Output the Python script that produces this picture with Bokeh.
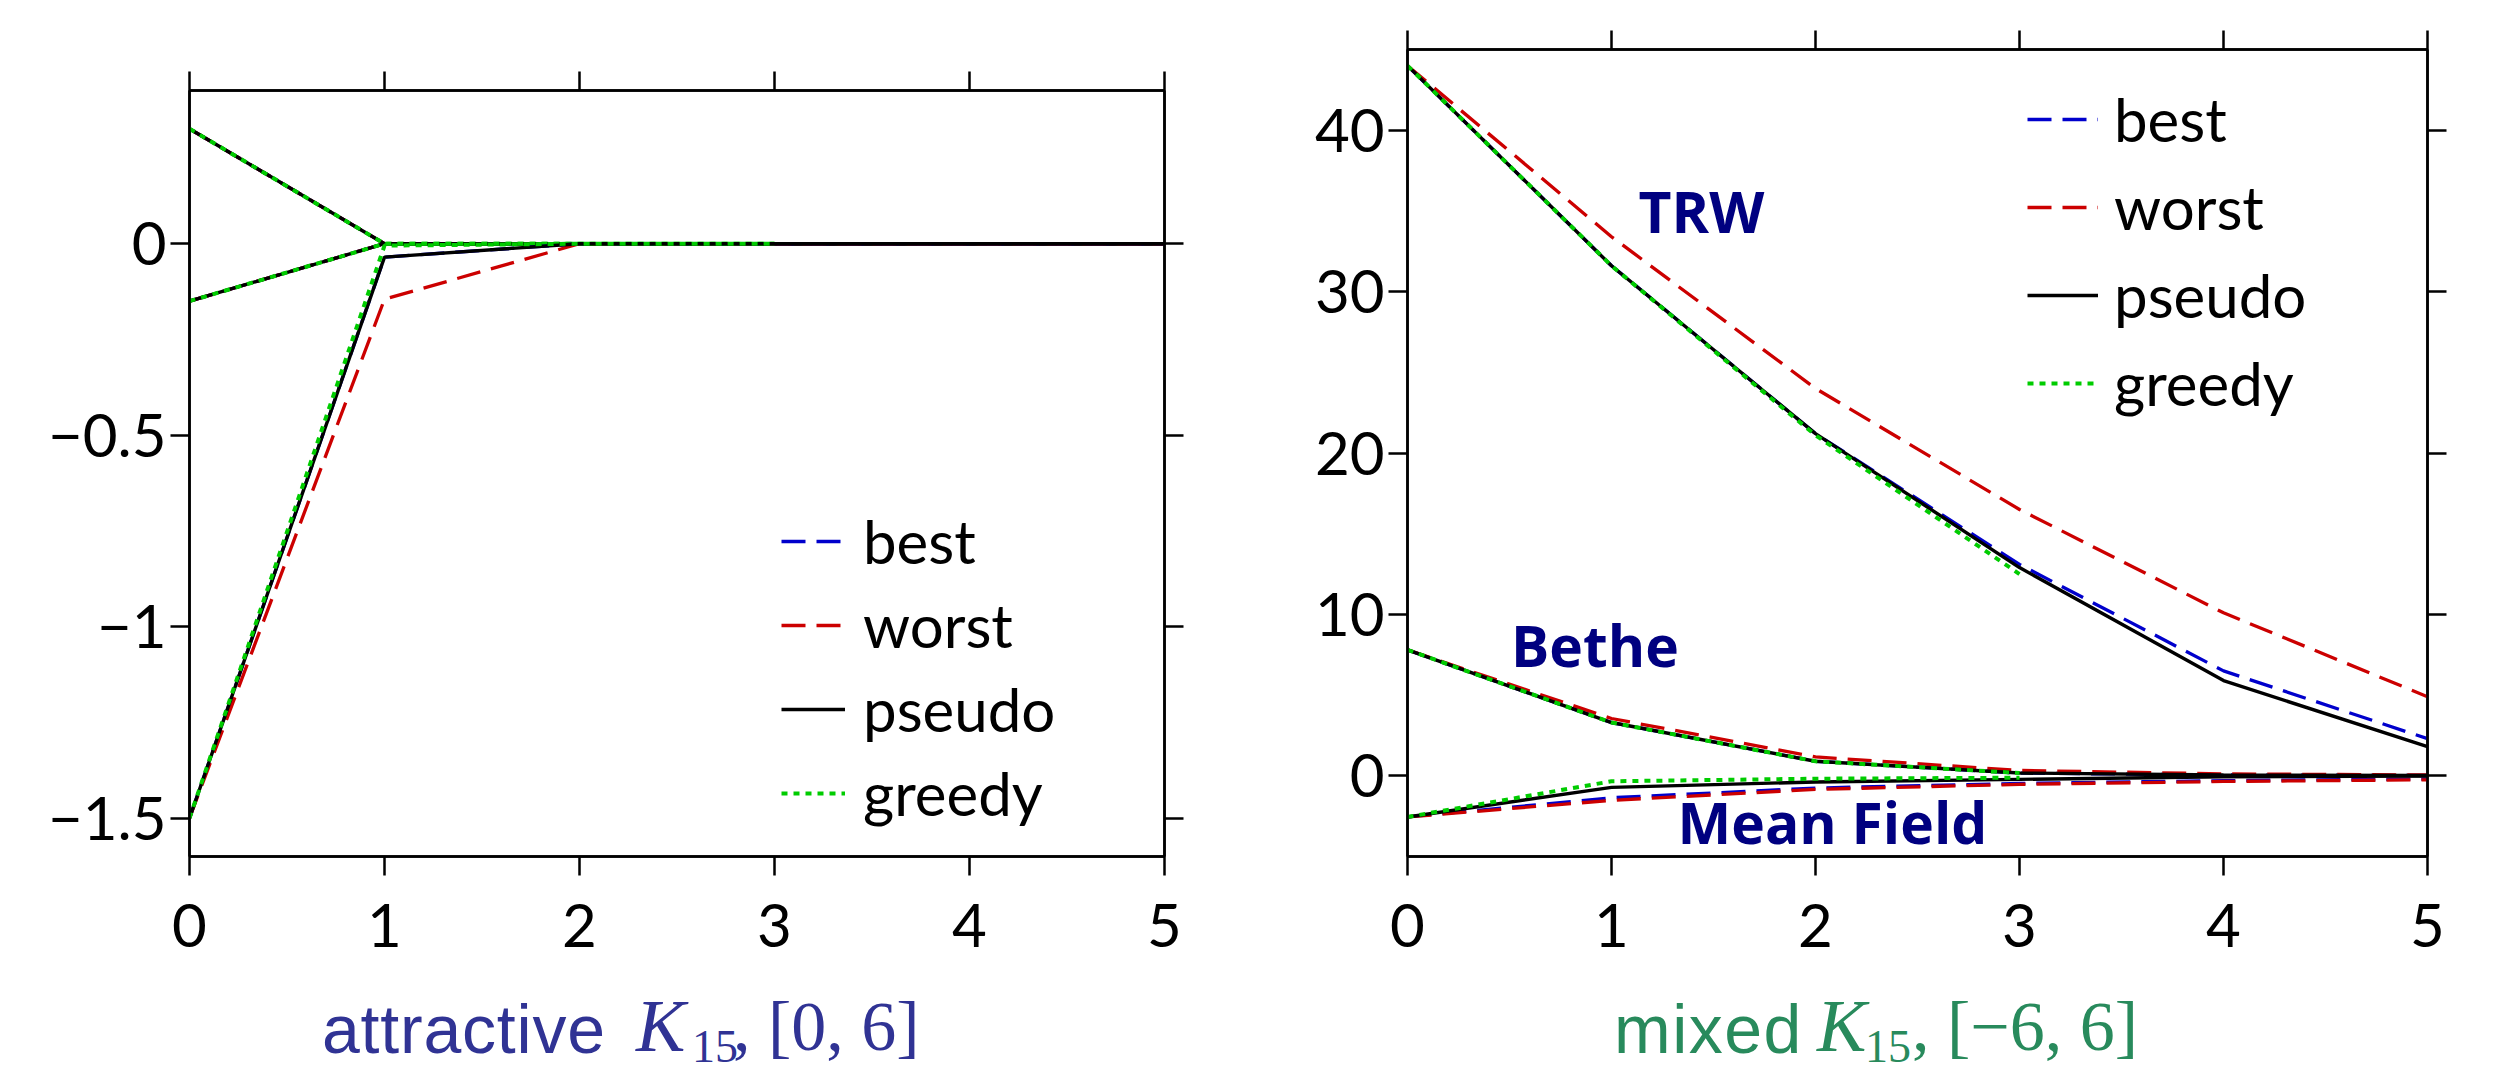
from bokeh.plotting import figure
from bokeh.models import (Range1d, LinearAxis, FixedTicker, CustomJSTickFormatter,
                          Legend, LegendItem, ColumnDataSource, Div)
from bokeh.layouts import row, column
from bokeh.core.properties import value
from bokeh.embed import file_html
from bokeh.resources import INLINE

# ---------------- data ----------------
steps = [0, 1, 2, 3, 4, 5]
greedy_steps = [0, 1, 2, 3]
methods = ["best", "worst", "pseudo", "greedy"]

# attractive K15, [0, 6]
att_trw_best = [0.30, 0.0, 0.0, 0.0, 0.0, 0.0]
att_trw_worst = [0.30, 0.0, 0.0, 0.0, 0.0, 0.0]
att_trw_pseudo = [0.30, 0.0, 0.0, 0.0, 0.0, 0.0]
att_trw_greedy = [0.30, 0.0, 0.0, 0.0]

att_bethe_best = [-0.15, 0.0, 0.0, 0.0, 0.0, 0.0]
att_bethe_worst = [-0.15, 0.0, 0.0, 0.0, 0.0, 0.0]
att_bethe_pseudo = [-0.15, 0.0, 0.0, 0.0, 0.0, 0.0]
att_bethe_greedy = [-0.15, 0.0, 0.0, 0.0]

att_mf_best = [-1.50, -0.035, 0.0, 0.0, 0.0, 0.0]
att_mf_worst = [-1.50, -0.145, 0.0, 0.0, 0.0, 0.0]
att_mf_pseudo = [-1.50, -0.035, 0.0, 0.0, 0.0, 0.0]
att_mf_greedy = [-1.50, -0.005, 0.0, 0.0]

# mixed K15, [-6, 6]
mix_trw_best = [44.0, 31.6, 21.2, 13.1, 6.5, 2.3]
mix_trw_worst = [44.0, 33.4, 24.0, 16.5, 10.1, 4.9]
mix_trw_pseudo = [44.0, 31.6, 21.2, 12.9, 5.9, 1.8]
mix_trw_greedy = [44.0, 31.6, 21.1, 12.5]

mix_bethe_best = [7.8, 3.3, 0.9, 0.17, 0.05, 0.02]
mix_bethe_worst = [7.8, 3.55, 1.17, 0.33, 0.12, 0.05]
mix_bethe_pseudo = [7.8, 3.3, 0.9, 0.17, 0.05, 0.02]
mix_bethe_greedy = [7.8, 3.3, 0.9, 0.17]

mix_mf_best = [-2.55, -1.36, -0.76, -0.47, -0.30, -0.20]
mix_mf_worst = [-2.55, -1.52, -0.84, -0.53, -0.35, -0.25]
mix_mf_pseudo = [-2.55, -0.72, -0.38, -0.22, -0.06, -0.02]
mix_mf_greedy = [-2.55, -0.34, -0.18, -0.12]

att_y_ticks = [0, -0.5, -1, -1.5]
mix_y_ticks = [0, 10, 20, 30, 40]
region_names = ["TRW", "Bethe", "Mean Field"]

# ---------------- styles ----------------
STYLE = {
    "best": dict(color="#0000cc", dash="24 11", width=3.3),
    "worst": dict(color="#cc0000", dash="24 11", width=3.3),
    "pseudo": dict(color="#000000", dash="solid", width=3.4),
    "greedy": dict(color="#00cc00", dash="6 6", width=4.0),
}
TICK_FONT = "Lato"
AX_W = 2.5

fmt_code = "return tick < 0 ? '\u2212' + String(Math.abs(tick)) : String(tick);"


def make_panel(y_lo, y_hi, y_ticks, fw, fh, bl, br, bt, bb):
    p = figure(frame_width=fw, frame_height=fh,
               x_range=Range1d(0, 5), y_range=Range1d(y_lo, y_hi),
               output_backend="svg", toolbar_location=None,
               min_border_left=bl, min_border_right=br,
               min_border_top=bt, min_border_bottom=bb)
    if "frame_align" in p.properties():
        p.frame_align = False
    p.xgrid.visible = False
    p.ygrid.visible = False
    p.outline_line_color = "black"
    p.outline_line_width = AX_W
    p.background_fill_color = "white"
    p.border_fill_color = "white"
    top = LinearAxis()
    right = LinearAxis()
    p.add_layout(top, "above")
    p.add_layout(right, "right")
    for ax in p.xaxis:
        ax.ticker = FixedTicker(ticks=steps)
        ax.major_label_standoff = 28
    for ax in p.yaxis:
        ax.ticker = FixedTicker(ticks=y_ticks)
        ax.major_label_standoff = 4
    for ax in p.axis:
        ax.formatter = CustomJSTickFormatter(code=fmt_code)
        ax.axis_line_width = AX_W
        ax.axis_line_color = "black"
        ax.major_tick_line_width = AX_W
        ax.major_tick_line_color = "black"
        ax.major_tick_out = 19
        ax.major_tick_in = 0
        ax.minor_tick_line_color = None
        ax.major_label_text_font = TICK_FONT
        ax.major_label_text_font_size = "60px"
        ax.major_label_text_color = "black"
    for ax in (top, right):
        ax.major_label_text_font_size = "10px"
        ax.major_label_text_color = None
    return p


def draw_group(p, ys):
    rs = {}
    for m in methods:
        st = STYLE[m]
        xs = greedy_steps if m == "greedy" else steps
        rs[m] = p.line(xs, ys[m], line_color=st["color"], line_dash=st["dash"],
                       line_width=st["width"])
    return rs


def add_legend(p, rs, loc, spacing, glyph_w, standoff):
    items = [LegendItem(label=m, renderers=[rs[m]]) for m in methods]
    lg = Legend(items=items, location=loc, orientation="vertical",
                border_line_color=None, background_fill_alpha=0,
                padding=0, margin=0, spacing=spacing,
                glyph_width=glyph_w, glyph_height=72, label_height=72,
                label_standoff=standoff, label_text_font=TICK_FONT,
                label_text_font_size="60px", label_text_color="black")
    p.add_layout(lg)


def title_div(parts, color, width):
    spans = []
    for (left, top, text, font, size, style, spacing) in parts:
        spans.append(
            f'<span style="position:absolute;left:{left}px;top:{top}px;'
            f"font-family:'{font}';font-size:{size}px;font-style:{style};"
            f'letter-spacing:{spacing}px;line-height:1;white-space:nowrap;'
            f'color:{color};">{text}</span>')
    html = ('<div style="position:relative;width:100%;height:80px;overflow:visible;">'
            + "".join(spans) + "</div>")
    return Div(text=html, width=width, height=80, margin=0,
               styles={"overflow": "visible"})


# ---------------- left panel ----------------
W1 = 189 + 975 + 76
p1 = make_panel(-1.6, 0.4, att_y_ticks, 975, 766, 189, 76, 90, 130)
g1 = draw_group(p1, dict(best=att_trw_best, worst=att_trw_worst,
                         pseudo=att_trw_pseudo, greedy=att_trw_greedy))
draw_group(p1, dict(best=att_bethe_best, worst=att_bethe_worst,
                    pseudo=att_bethe_pseudo, greedy=att_bethe_greedy))
draw_group(p1, dict(best=att_mf_best, worst=att_mf_worst,
                    pseudo=att_mf_pseudo, greedy=att_mf_greedy))
add_legend(p1, g1, (592, 27), 12, 64, 18)
d1 = title_div([
    (322, 9, "attractive", "Liberation Sans", 68, "normal", 0.8),
    (636, 3, "K", "Liberation Serif", 74, "italic", 0),
    (692, 38, "15", "Liberation Serif", 46, "normal", 0),
    (733, 6, ", [0, 6]", "Liberation Serif", 70, "normal", 0),
], "#303394", W1)

# ---------------- right panel ----------------
W2 = 167 + 1020 + 80
p2 = make_panel(-5, 45, mix_y_ticks, 1020, 807, 167, 80, 49, 130)
g2 = draw_group(p2, dict(best=mix_trw_best, worst=mix_trw_worst,
                         pseudo=mix_trw_pseudo, greedy=mix_trw_greedy))
draw_group(p2, dict(best=mix_bethe_best, worst=mix_bethe_worst,
                    pseudo=mix_bethe_pseudo, greedy=mix_bethe_greedy))
draw_group(p2, dict(best=mix_mf_best, worst=mix_mf_worst,
                    pseudo=mix_mf_pseudo, greedy=mix_mf_greedy))
add_legend(p2, g2, (620, 437), 16, 71, 16)
d2 = title_div([
    (374, 9, "mixed", "Liberation Sans", 68, "normal", 1.5),
    (577, 3, "K", "Liberation Serif", 74, "italic", 0),
    (625, 38, "15", "Liberation Serif", 46, "normal", 0),
    (672, 6, ", [\u22126, 6]", "Liberation Serif", 70, "normal", 0),
], "#288a5c", W2)

src = ColumnDataSource(dict(x=[1.441, 0.919, 2.083], y=[34.98, 8.10, -2.88],
                            t=region_names))
p2.text(x="x", y="y", text="t", source=src, text_font=value("Open Sans"),
        text_font_style="bold", text_font_size="57px", text_color="#000080",
        text_align="center", text_baseline="alphabetic")

layout = row(column(p1, d1), column(p2, d2))
open("out.html", "w").write(file_html(layout, INLINE))
